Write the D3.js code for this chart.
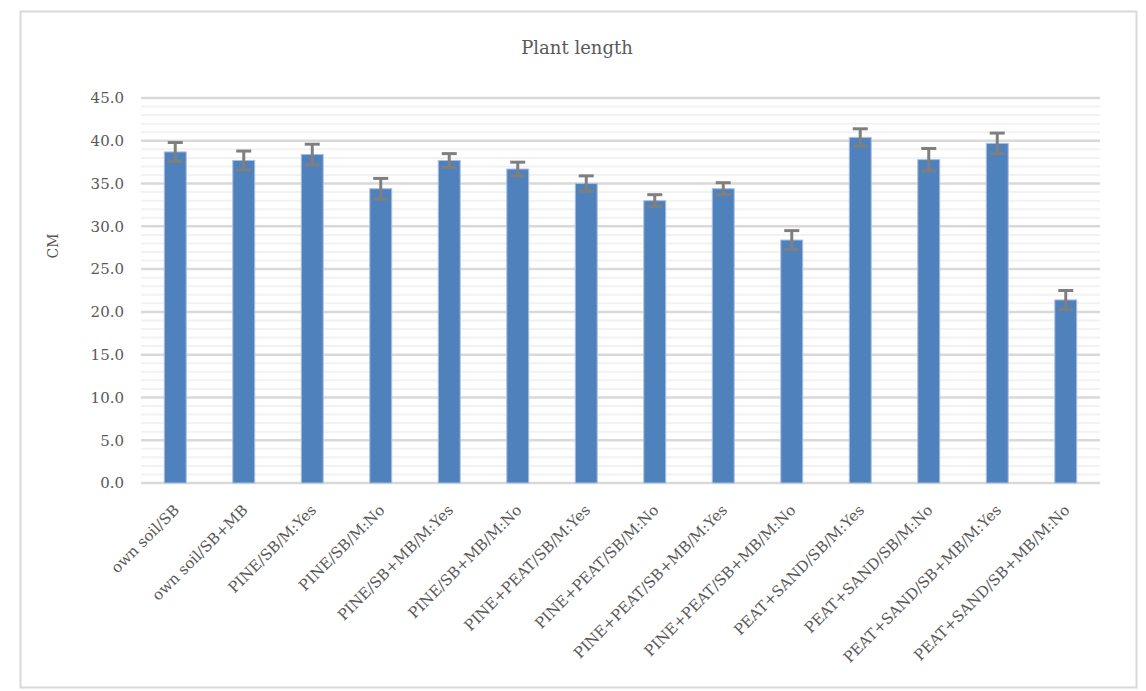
<!DOCTYPE html>
<html><head><meta charset="utf-8">
<script src="https://cdnjs.cloudflare.com/ajax/libs/d3/7.8.5/d3.min.js"></script>
<style>body{margin:0;background:#fff;} svg{display:block;}</style>
</head><body>
<script>
const categories = ["own soil/SB","own soil/SB+MB","PINE/SB/M:Yes","PINE/SB/M:No","PINE/SB+MB/M:Yes","PINE/SB+MB/M:No","PINE+PEAT/SB/M:Yes","PINE+PEAT/SB/M:No","PINE+PEAT/SB+MB/M:Yes","PINE+PEAT/SB+MB/M:No","PEAT+SAND/SB/M:Yes","PEAT+SAND/SB/M:No","PEAT+SAND/SB+MB/M:Yes","PEAT+SAND/SB+MB/M:No"];
const values = [38.7,37.7,38.4,34.4,37.7,36.7,35.0,33.0,34.4,28.4,40.4,37.8,39.7,21.4];
const errors = [1.1,1.1,1.2,1.2,0.8,0.8,0.9,0.7,0.7,1.1,1.0,1.3,1.2,1.1];
const yTicks = [0,5,10,15,20,25,30,35,40,45];
const title = "Plant length";
const yLabel = "CM";

const W=1146,H=691;
const svg=d3.select("body").append("svg").attr("width",W).attr("height",H);
const font="'DejaVu Serif','Liberation Serif',serif";
const txt="#595959";
svg.append("rect").attr("x",20.5).attr("y",11.5).attr("width",1116).attr("height",676)
  .attr("fill","#fff").attr("stroke","#d9d9d9").attr("stroke-width",2);

const L=141,R=1100,T=98,B=483;
const x=d3.scaleBand().domain(categories).range([L,R]).paddingInner(0.68).paddingOuter(0.34);
const y=d3.scaleLinear().domain([0,45]).range([B,T]);

// minor gridlines
const minor=d3.range(0,45,1).filter(v=>v%5!==0);
svg.append("g").selectAll("line").data(minor).join("line")
  .attr("x1",L).attr("x2",R).attr("y1",d=>y(d)).attr("y2",d=>y(d))
  .attr("stroke","#f2f2f2").attr("stroke-width",2);
svg.append("g").selectAll("line").data(yTicks).join("line")
  .attr("x1",L).attr("x2",R).attr("y1",d=>y(d)).attr("y2",d=>y(d))
  .attr("stroke","#d9d9d9").attr("stroke-width",2.5);

// y axis labels
const yAxis=d3.axisLeft(y).tickValues(yTicks).tickFormat(d3.format(".1f")).tickSize(0).tickPadding(17);
const ya=svg.append("g").attr("transform",`translate(${L},0)`).call(yAxis);
ya.select(".domain").remove();
ya.selectAll("text").attr("font-family",font).attr("font-size",15).attr("fill",txt);

// bars
svg.append("g").selectAll("rect").data(values).join("rect")
  .attr("x",(d,i)=>x(categories[i])).attr("width",x.bandwidth())
  .attr("y",d=>y(d)).attr("height",d=>B-y(d))
  .attr("fill","#4f81bd").attr("stroke","#a9c0e0").attr("stroke-width",1);

// error bars
const eg=svg.append("g").attr("stroke","#7f7f7f").attr("stroke-width",3);
values.forEach((v,i)=>{
  const cx=x(categories[i])+x.bandwidth()/2;
  eg.append("line").attr("x1",cx).attr("x2",cx).attr("y1",y(v+errors[i])).attr("y2",y(v-errors[i]));
  [v+errors[i],v-errors[i]].forEach(e=>{
    eg.append("line").attr("x1",cx-7.5).attr("x2",cx+7.5).attr("y1",y(e)).attr("y2",y(e));
  });
});

// x axis labels
const xAxis=d3.axisBottom(x).tickSize(0).tickPadding(0);
const xa=svg.append("g").attr("transform",`translate(0,${B})`).call(xAxis);
xa.select(".domain").remove();
xa.selectAll("text").attr("font-family",font).attr("font-size",15).attr("fill",txt)
  .attr("text-anchor","end").attr("dy",null)
  .attr("transform","translate(5,28) rotate(-45)");

// title
svg.append("text").attr("x",577).attr("y",54).attr("text-anchor","middle")
  .attr("font-family",font).attr("font-size",18).attr("fill",txt).text(title);
svg.append("text").attr("transform","translate(58,246) rotate(-90)").attr("text-anchor","middle")
  .attr("font-family",font).attr("font-size",14).attr("fill",txt).text(yLabel);
</script>
</body></html>
